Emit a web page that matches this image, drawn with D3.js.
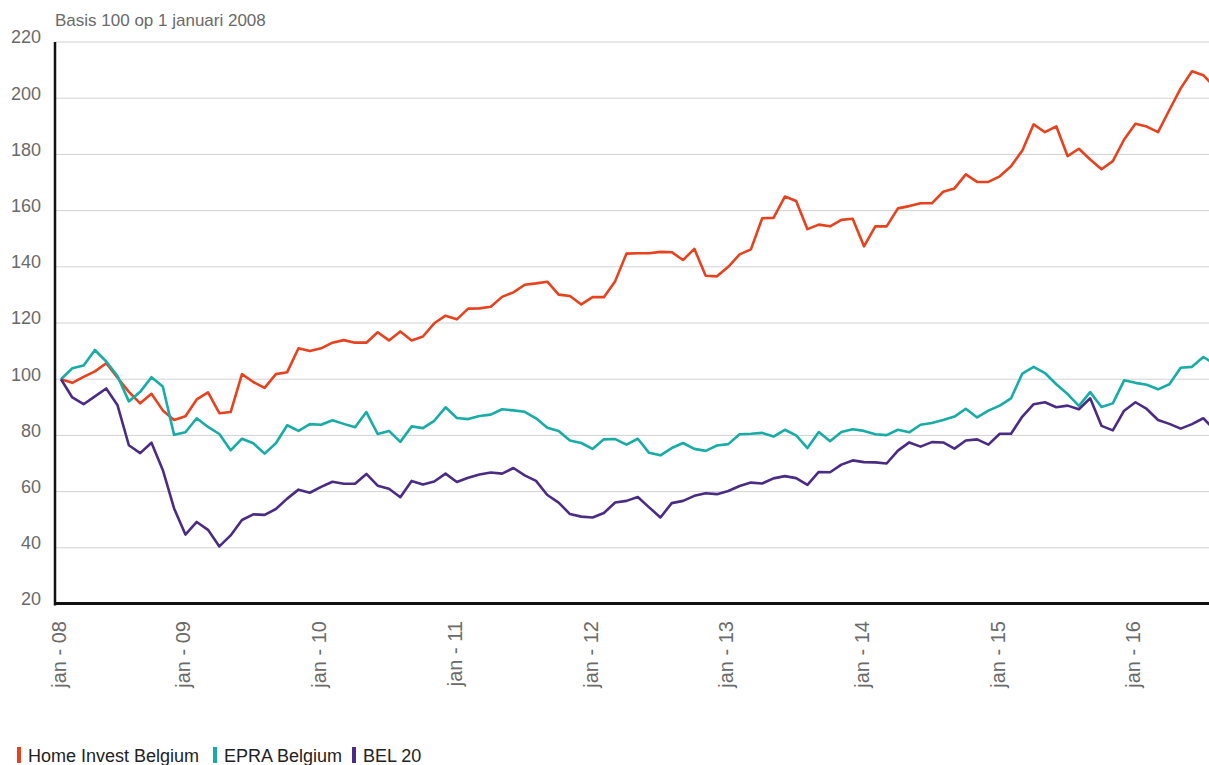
<!DOCTYPE html>
<html>
<head>
<meta charset="utf-8">
<title>Home Invest Belgium vs EPRA Belgium vs BEL 20</title>
<script src="https://d3js.org/d3.v7.min.js"></script>
<style>
  body { margin: 0; background: #fff; }
  svg { display: block; font-family: "Liberation Sans", Arial, sans-serif; }
  .grid line { stroke: #d2d2d2; stroke-width: 1; }
  .tick-y { fill: #6a6a6a; font-size: 18px; }
  .tick-x { fill: #6a6a6a; font-size: 20px; }
  .title { fill: #6a6a6a; font-size: 17px; }
  .legend text { fill: #222; font-size: 18px; }
</style>
</head>
<body>
<svg id="chart" width="1209" height="765"></svg>
<script>
// index 0 = 1 januari 2008, then one value per month
const homeInvest = [
  100, 98.7, 100.8, 102.8, 105.7, 100.5, 95.5, 91.4, 94.8, 88.9,
  85.5, 86.8, 92.8, 95.3, 87.9, 88.3, 101.8, 99.0, 96.9, 101.8,
  102.5, 111.0, 110.0, 111.0, 113.0, 113.9, 113.0, 113.0, 116.7, 113.8,
  117.0, 113.8, 115.2, 119.9, 122.6, 121.3, 125.1, 125.2, 125.8, 129.3,
  130.9, 133.6, 134.1, 134.7, 130.1, 129.6, 126.6, 129.2, 129.2, 134.9,
  144.7, 144.8, 144.8, 145.3, 145.2, 142.4, 146.4, 136.8, 136.6, 140.0,
  144.4, 146.2, 157.3, 157.4, 165.0, 163.4, 153.4, 155.0, 154.4, 156.7,
  157.1, 147.3, 154.4, 154.4, 160.8, 161.6, 162.6, 162.6, 166.7, 167.9,
  172.9, 170.2, 170.2, 172.2, 175.8, 181.4, 190.7, 187.9, 190.0, 179.4,
  182.0, 178.2, 174.7, 177.6, 185.3, 190.9, 189.9, 187.9, 195.8, 203.5,
  209.6, 208.2, 204.0
];
const epraBelgium = [
  100, 103.9, 104.9, 110.4, 106.3, 101.1, 92.1, 95.5, 100.7, 97.4,
  80.2, 81.1, 86.1, 83.0, 80.5, 74.7, 78.8, 77.2, 73.5, 77.2,
  83.6, 81.6, 84.0, 83.8, 85.4, 84.1, 82.9, 88.3, 80.5, 81.6,
  77.7, 83.2, 82.6, 85.2, 90.0, 86.2, 85.8, 86.9, 87.4, 89.3,
  88.9, 88.4, 86.1, 82.7, 81.6, 78.2, 77.3, 75.2, 78.6, 78.7,
  76.7, 78.8, 73.8, 72.9, 75.5, 77.3, 75.2, 74.5, 76.4, 76.9,
  80.4, 80.6, 80.9, 79.6, 82.0, 80.0, 75.5, 81.2, 77.9, 81.2,
  82.2, 81.6, 80.4, 80.1, 82.0, 81.1, 83.8, 84.4, 85.5, 86.7,
  89.5, 86.4, 88.8, 90.6, 93.2, 102.0, 104.4, 102.2, 98.2, 94.7,
  90.5, 95.4, 90.1, 91.4, 99.6, 98.7, 98.0, 96.4, 98.2, 104.1,
  104.4, 107.9, 105.5
];
const bel20 = [
  100, 93.5, 91.1, 93.9, 96.7, 90.7, 76.5, 73.7, 77.4, 67.7,
  54.0, 44.7, 49.2, 46.4, 40.5, 44.4, 49.9, 51.9, 51.7, 53.8,
  57.5, 60.7, 59.6, 61.7, 63.5, 62.8, 62.8, 66.3, 62.1, 61.0,
  58.0, 63.8, 62.5, 63.6, 66.4, 63.4, 64.9, 66.1, 66.8, 66.4,
  68.4, 65.8, 63.8, 58.8, 56.1, 52.0, 51.1, 50.8, 52.4, 56.1,
  56.7, 58.1, 54.4, 50.8, 55.9, 56.7, 58.5, 59.4, 59.1, 60.2,
  62.0, 63.2, 62.9, 64.7, 65.5, 64.8, 62.4, 67.0, 66.9, 69.6,
  71.1, 70.5, 70.4, 70.0, 74.6, 77.5, 76.0, 77.6, 77.5, 75.3,
  78.2, 78.6, 76.7, 80.6, 80.6, 86.7, 91.1, 91.8, 90.0, 90.6,
  89.3, 93.2, 83.4, 81.8, 88.8, 91.8, 89.4, 85.5, 84.1, 82.4,
  84.0, 86.1, 82.0
];

const seriesNames = ["Home Invest Belgium", "EPRA Belgium", "BEL 20"];
const seriesColors = ["#e8411d", "#17aca6", "#4a2c85"];
const yTicks = [20, 40, 60, 80, 100, 120, 140, 160, 180, 200, 220];
const xTickIndex = [0, 11, 23, 35, 47, 59, 71, 83, 95];
const xTickLabels = ["jan - 08", "jan - 09", "jan - 10", "jan - 11", "jan - 12",
                     "jan - 13", "jan - 14", "jan - 15", "jan - 16"];

const svg = d3.select("#chart");
const m = {left: 55, right: 1209, top: 42, bottom: 604};

const x = d3.scaleLinear().domain([0, 101]).range([61, 1203.3]);
const y = d3.scaleLinear().domain([20, 220]).range([m.bottom, m.top]);

// grid
svg.append("g").attr("class", "grid")
  .selectAll("line").data(yTicks.slice(1)).join("line")
    .attr("x1", m.left).attr("x2", m.right)
    .attr("y1", d => y(d)).attr("y2", d => y(d));

// y labels
svg.append("g").selectAll("text").data(yTicks).join("text")
  .attr("class", "tick-y")
  .attr("x", 41).attr("y", d => y(d) - 5)
  .attr("dy", "0.35em")
  .attr("text-anchor", "end")
  .text(d => d);

svg.append("text").attr("class", "title")
  .attr("x", 55).attr("y", 26)
  .text("Basis 100 op 1 januari 2008");

// lines
const line = d3.line().x((d, i) => x(i)).y(d => y(d));
[homeInvest, epraBelgium, bel20].forEach((s, k) => {
  svg.append("path")
    .datum(s)
    .attr("fill", "none")
    .attr("stroke", seriesColors[k])
    .attr("stroke-width", 2.6)
    .attr("stroke-linejoin", "round")
    .attr("d", line);
});

// axes
svg.append("line").attr("x1", m.left).attr("x2", m.left)
  .attr("y1", m.top).attr("y2", m.bottom + 1.5)
  .attr("stroke", "#111").attr("stroke-width", 2.5);
svg.append("line").attr("x1", m.left - 1).attr("x2", m.right)
  .attr("y1", m.bottom - 0.5).attr("y2", m.bottom - 0.5)
  .attr("stroke", "#111").attr("stroke-width", 3);

// x labels
svg.append("g").selectAll("text").data(xTickIndex).join("text")
  .attr("class", "tick-x")
  .attr("transform", d => `translate(${x(d) - 2},621) rotate(-90)`)
  .attr("dy", "0.35em")
  .attr("text-anchor", "end")
  .text((d, i) => xTickLabels[i]);

// legend
const legendX = [17, 213, 352];
const lg = svg.append("g").attr("class", "legend");
seriesNames.forEach((n, k) => {
  lg.append("rect").attr("x", legendX[k]).attr("y", 747)
    .attr("width", 4).attr("height", 16).attr("fill", seriesColors[k]);
  lg.append("text").attr("x", legendX[k] + 11).attr("y", 762).text(n);
});
</script>
</body>
</html>
